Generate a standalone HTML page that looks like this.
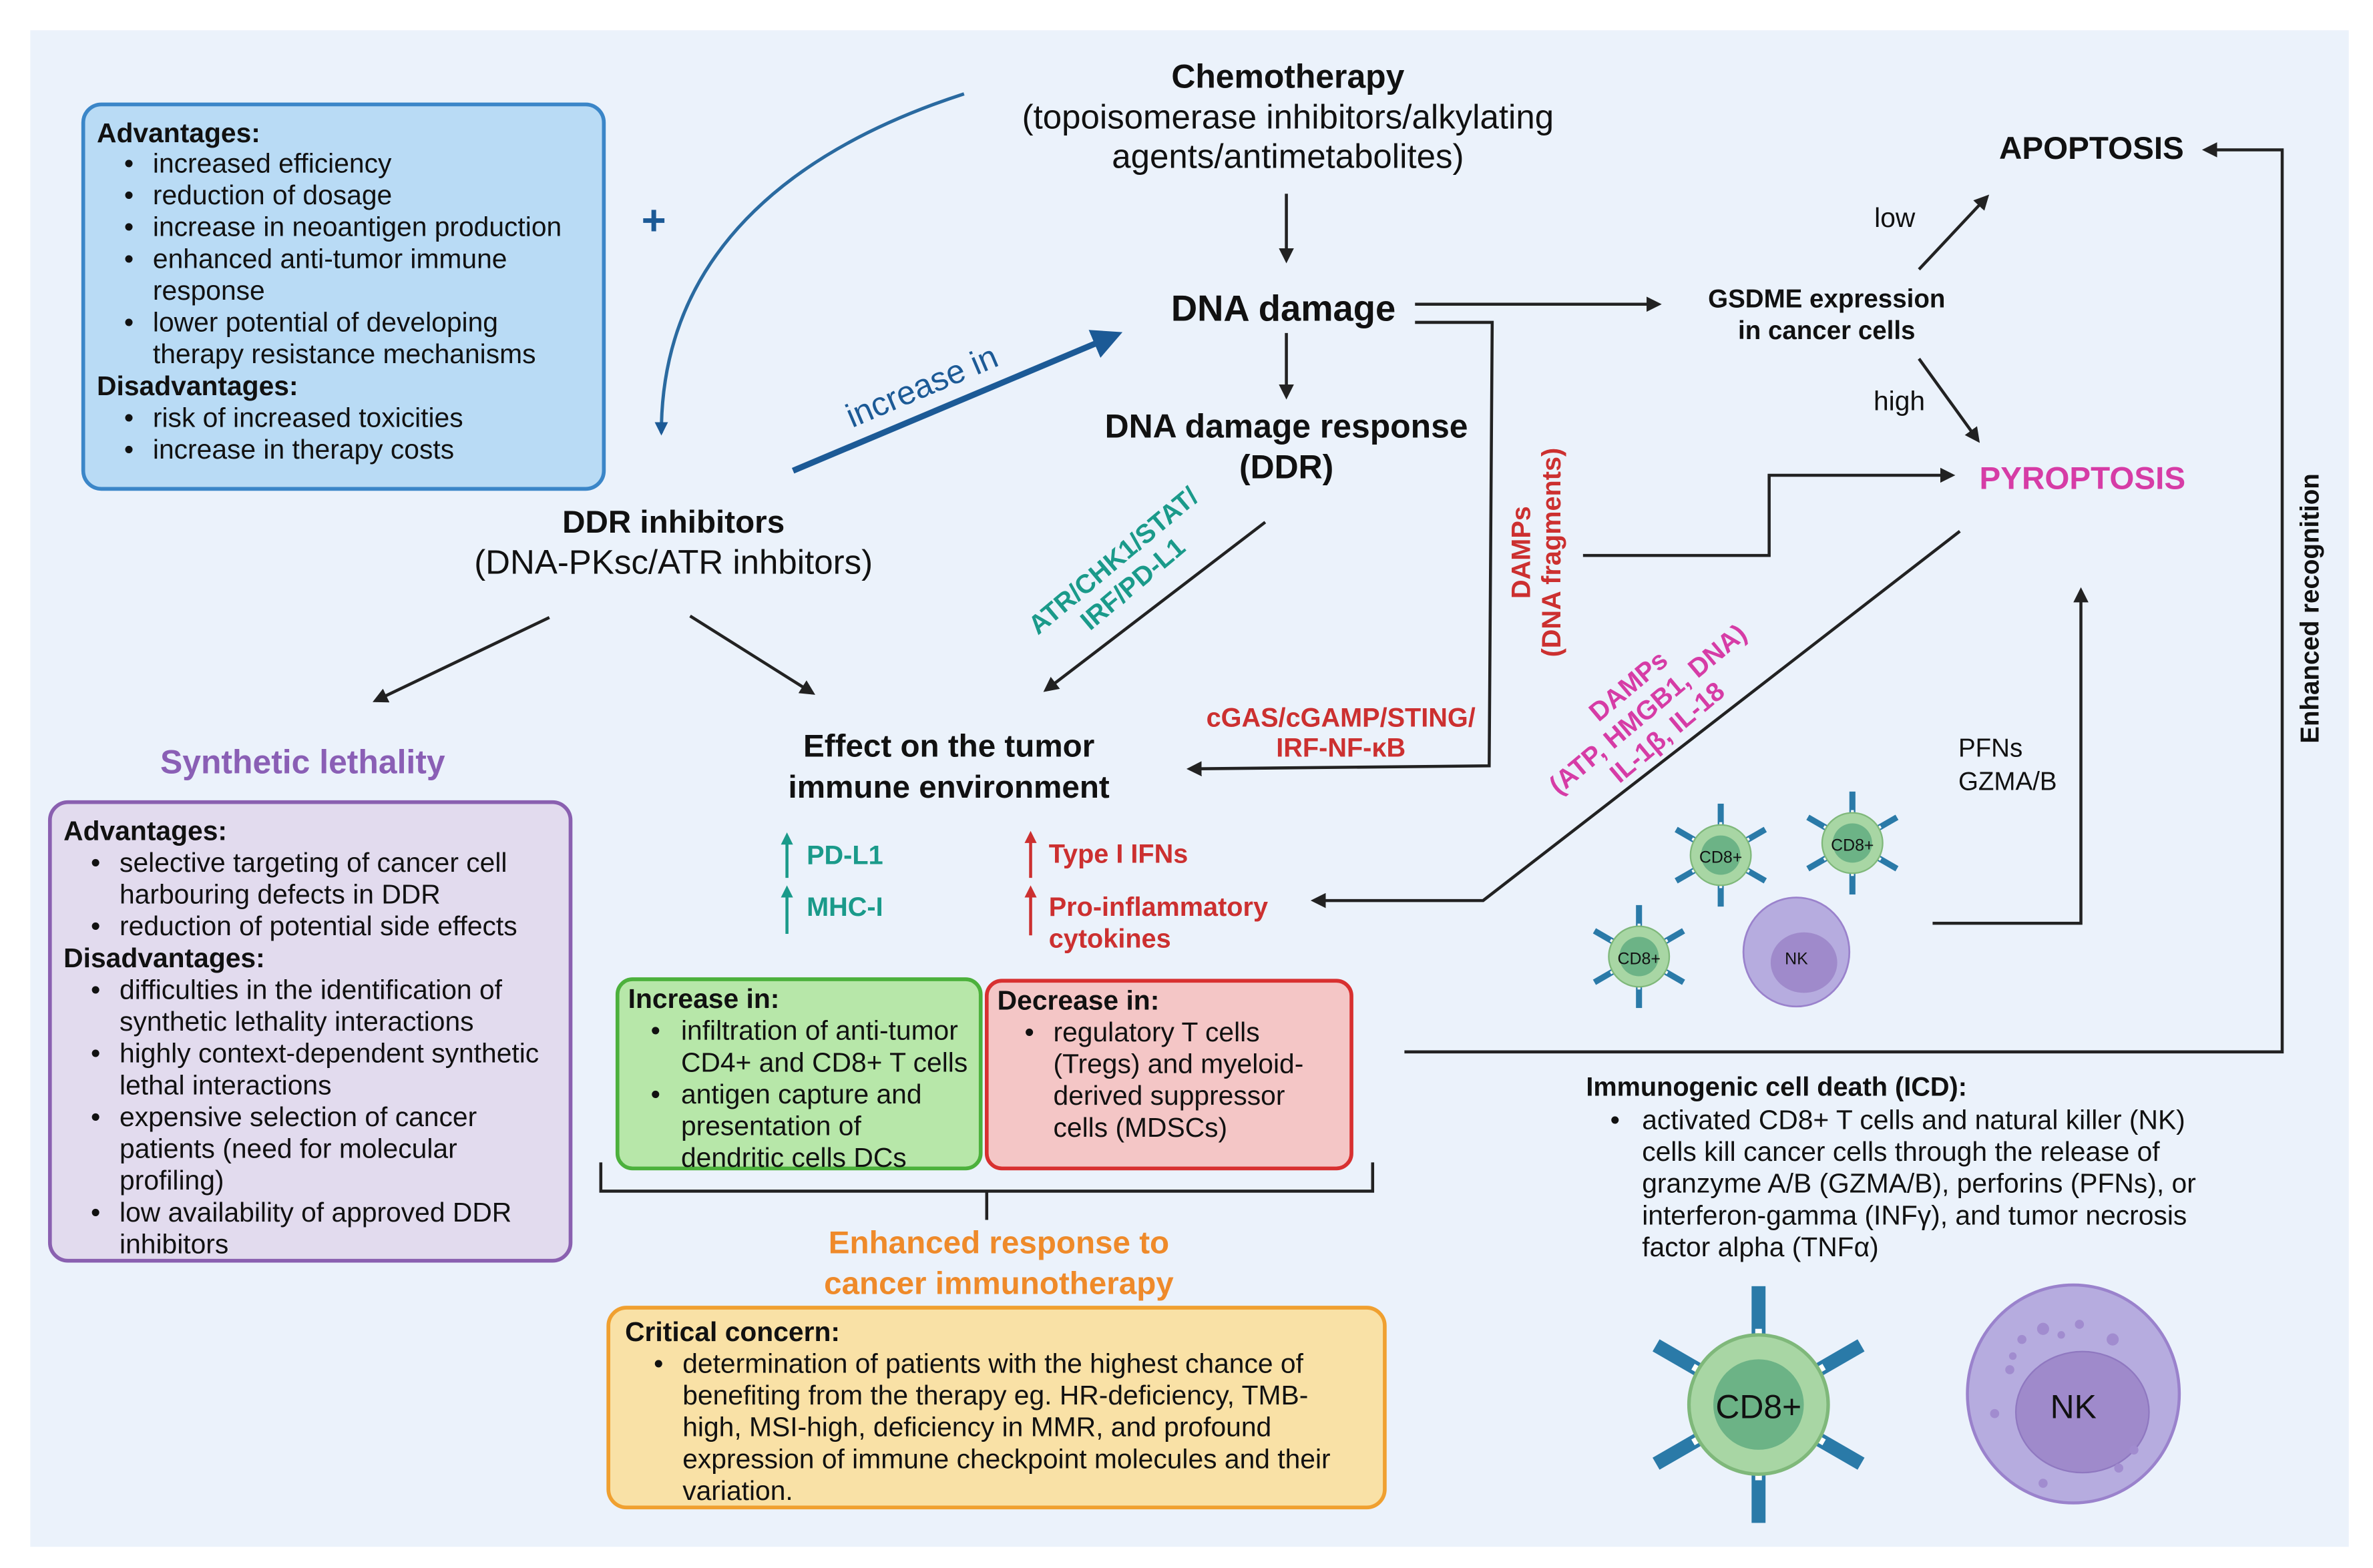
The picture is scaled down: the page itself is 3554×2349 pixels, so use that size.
<!DOCTYPE html>
<html><head><meta charset="utf-8"><style>
html,body{margin:0;padding:0;background:#fff}
svg{display:block}
text{font-family:"Liberation Sans",sans-serif;fill:#111}
.b{font-weight:bold}
</style></head><body>
<svg width="3554" height="2349" viewBox="0 0 1568 1036" preserveAspectRatio="none" xmlns="http://www.w3.org/2000/svg">
<defs>
<marker id="a" viewBox="0 0 10 10" refX="8" refY="5" markerWidth="5" markerHeight="5" orient="auto"><path d="M0,0L10,5L0,10z" fill="#222"/></marker>
<marker id="ab" viewBox="0 0 10 10" refX="8" refY="5" markerWidth="5" markerHeight="5" orient="auto"><path d="M0,0L10,5L0,10z" fill="#1c5a96"/></marker>
<marker id="ab2" viewBox="0 0 10 10" refX="8" refY="5" markerWidth="4" markerHeight="4" orient="auto"><path d="M0,0L10,5L0,10z" fill="#1c5a96"/></marker>
<g id="ab1"><rect x="-2" y="-34" width="4" height="14" fill="#2a7aa8"/><rect x="-1.2" y="-22" width="2.4" height="6" fill="#fff" stroke="#2a7aa8" stroke-width="0.5"/></g>
<g id="cd8">
<use href="#ab1"/><use href="#ab1" transform="rotate(60)"/><use href="#ab1" transform="rotate(120)"/><use href="#ab1" transform="rotate(180)"/><use href="#ab1" transform="rotate(240)"/><use href="#ab1" transform="rotate(300)"/>
<circle r="20" fill="#a8d6a4" stroke="#7fb87a" stroke-width="1"/><circle r="13" fill="#6cb386"/>
</g>
</defs>
<rect x="20" y="20" width="1532" height="1002" fill="#ebf2fb"/>

<rect x="55" y="69" width="344" height="254" rx="12" fill="#b9dbf5" stroke="#3b86c8" stroke-width="2.5"/>
<g font-size="18">
<text x="64" y="94" class="b">Advantages:</text>
<text x="82" y="114">•</text><text x="101" y="114">increased efficiency</text>
<text x="82" y="135">•</text><text x="101" y="135">reduction of dosage</text>
<text x="82" y="156">•</text><text x="101" y="156">increase in neoantigen production</text>
<text x="82" y="177">•</text><text x="101" y="177">enhanced anti-tumor immune</text>
<text x="101" y="198">response</text>
<text x="82" y="219">•</text><text x="101" y="219">lower potential of developing</text>
<text x="101" y="240">therapy resistance mechanisms</text>
<text x="64" y="261" class="b">Disadvantages:</text>
<text x="82" y="282">•</text><text x="101" y="282">risk of increased toxicities</text>
<text x="82" y="303">•</text><text x="101" y="303">increase in therapy costs</text>
</g>
<text x="432" y="155" font-size="28" class="b" text-anchor="middle" style="fill:#1c5a96">+</text>
<path d="M637,62 C520,100 437,170 437,286" fill="none" stroke="#2a6aa0" stroke-width="2.2" marker-end="url(#ab2)"/>

<text x="851" y="58" font-size="22" class="b" text-anchor="middle">Chemotherapy</text>
<text x="851" y="85" font-size="22.5" text-anchor="middle">(topoisomerase inhibitors/alkylating</text>
<text x="851" y="111" font-size="22.5" text-anchor="middle">agents/antimetabolites)</text>
<line x1="850" y1="128" x2="850" y2="172" stroke="#222" stroke-width="2" marker-end="url(#a)"/>
<text x="848" y="212" font-size="24" class="b" text-anchor="middle">DNA damage</text>
<line x1="850" y1="220" x2="850" y2="262" stroke="#222" stroke-width="2" marker-end="url(#a)"/>
<text x="850" y="289" font-size="22" class="b" text-anchor="middle">DNA damage response</text>
<text x="850" y="316" font-size="22" class="b" text-anchor="middle">(DDR)</text>

<line x1="524" y1="311" x2="738" y2="221" stroke="#1c5a96" stroke-width="4" marker-end="url(#ab)"/>
<text transform="translate(612,262) rotate(-23)" font-size="22" text-anchor="middle" style="fill:#1c5a96">increase in</text>

<text x="445" y="352" font-size="21" class="b" text-anchor="middle">DDR inhibitors</text>
<text x="445" y="379" font-size="22.5" text-anchor="middle">(DNA-PKsc/ATR inhbitors)</text>
<line x1="363" y1="408" x2="248" y2="463" stroke="#222" stroke-width="2" marker-end="url(#a)"/>
<line x1="456" y1="407" x2="537" y2="458" stroke="#222" stroke-width="2" marker-end="url(#a)"/>

<text x="200" y="511" font-size="22" class="b" text-anchor="middle" style="fill:#8a5fb5">Synthetic lethality</text>
<rect x="33" y="530" width="344" height="303" rx="12" fill="#e2dbee" stroke="#8a60b0" stroke-width="2.5"/>
<g font-size="18">
<text x="42" y="555" class="b">Advantages:</text>
<text x="60" y="576">•</text><text x="79" y="576">selective targeting of cancer cell</text>
<text x="79" y="597">harbouring defects in DDR</text>
<text x="60" y="618">•</text><text x="79" y="618">reduction of potential side effects</text>
<text x="42" y="639" class="b">Disadvantages:</text>
<text x="60" y="660">•</text><text x="79" y="660">difficulties in the identification of</text>
<text x="79" y="681">synthetic lethality interactions</text>
<text x="60" y="702">•</text><text x="79" y="702">highly context-dependent synthetic</text>
<text x="79" y="723">lethal interactions</text>
<text x="60" y="744">•</text><text x="79" y="744">expensive selection of cancer</text>
<text x="79" y="765">patients (need for molecular</text>
<text x="79" y="786">profiling)</text>
<text x="60" y="807">•</text><text x="79" y="807">low availability of approved DDR</text>
<text x="79" y="828">inhibitors</text>
</g>

<line x1="836" y1="345" x2="691" y2="456" stroke="#222" stroke-width="2" marker-end="url(#a)"/>
<g transform="translate(742,378) rotate(-40)" font-size="17.5" text-anchor="middle">
<text x="0" y="-4" class="b" style="fill:#1a9a8a">ATR/CHK1/STAT/</text>
<text x="0" y="16" class="b" style="fill:#1a9a8a">IRF/PD-L1</text></g>

<line x1="935" y1="201" x2="1096" y2="201" stroke="#222" stroke-width="2" marker-end="url(#a)"/>
<polyline points="935,213 986,213 984,506 786,508" fill="none" stroke="#222" stroke-width="2" marker-end="url(#a)"/>
<text x="886" y="480" font-size="17.5" class="b" text-anchor="middle" style="fill:#cc3030">cGAS/cGAMP/STING/</text>
<text x="886" y="500" font-size="17.5" class="b" text-anchor="middle" style="fill:#cc3030">IRF-NF-κB</text>
<g transform="translate(1015,365) rotate(-90)" text-anchor="middle" font-size="17.5">
<text x="0" y="-4" class="b" style="fill:#cc3030">DAMPs</text>
<text x="0" y="16" class="b" style="fill:#cc3030">(DNA fragments)</text></g>
<polyline points="1046,367 1169,367 1169,314 1290,314" fill="none" stroke="#222" stroke-width="2" marker-end="url(#a)"/>

<text x="1207" y="203" font-size="17" class="b" text-anchor="middle">GSDME expression</text>
<text x="1207" y="224" font-size="17" class="b" text-anchor="middle">in cancer cells</text>
<line x1="1268" y1="178" x2="1313" y2="130" stroke="#222" stroke-width="2" marker-end="url(#a)"/>
<text x="1252" y="150" font-size="18" text-anchor="middle">low</text>
<line x1="1268" y1="237" x2="1307" y2="291" stroke="#222" stroke-width="2" marker-end="url(#a)"/>
<text x="1255" y="271" font-size="18" text-anchor="middle">high</text>
<text x="1382" y="105" font-size="21" class="b" text-anchor="middle">APOPTOSIS</text>
<polyline points="928,695 1508,695 1508,99 1457,99" fill="none" stroke="#222" stroke-width="2" marker-end="url(#a)"/>
<text transform="translate(1532,402) rotate(-90)" font-size="17" class="b" text-anchor="middle">Enhanced recognition</text>
<text x="1376" y="323" font-size="21" class="b" text-anchor="middle" style="fill:#d63ca6">PYROPTOSIS</text>

<polyline points="1295,351 980,595 868,595" fill="none" stroke="#222" stroke-width="2" marker-end="url(#a)"/>
<g transform="translate(1090,470) rotate(-40)" text-anchor="middle" font-size="17.5">
<text x="0" y="-16" class="b" style="fill:#d63ca6">DAMPs</text>
<text x="0" y="4" class="b" style="fill:#d63ca6">(ATP, HMGB1, DNA)</text>
<text x="0" y="24" class="b" style="fill:#d63ca6">IL-1β, IL-18</text></g>
<text x="1294" y="500" font-size="17">PFNs</text>
<text x="1294" y="522" font-size="17">GZMA/B</text>
<polyline points="1277,610 1375,610 1375,390" fill="none" stroke="#222" stroke-width="2" marker-end="url(#a)"/>

<use href="#cd8" transform="translate(1137,565)"/>
<use href="#cd8" transform="translate(1224,557)"/>
<use href="#cd8" transform="translate(1083,632)"/>
<text x="1137" y="570" font-size="11" text-anchor="middle">CD8+</text>
<text x="1224" y="562" font-size="11" text-anchor="middle">CD8+</text>
<text x="1083" y="637" font-size="11" text-anchor="middle">CD8+</text>
<ellipse cx="1187" cy="629" rx="35" ry="36" fill="#b6acdf" stroke="#9a82cc" stroke-width="1.2"/>
<ellipse cx="1192" cy="636" rx="22" ry="20" fill="#9f8acb"/>
<text x="1187" y="637" font-size="11" text-anchor="middle">NK</text>

<text x="627" y="500" font-size="21" class="b" text-anchor="middle">Effect on the tumor</text>
<text x="627" y="527" font-size="21" class="b" text-anchor="middle">immune environment</text>
<g stroke="#1a9a8a" stroke-width="2"><line x1="520" y1="580" x2="520" y2="555"/><line x1="520" y1="617" x2="520" y2="590"/></g>
<path d="M516,558 L520,550 L524,558z M516,593 L520,585 L524,593z" fill="#1a9a8a"/>
<text x="533" y="571" font-size="17.5" class="b" style="fill:#1a9a8a">PD-L1</text>
<text x="533" y="605" font-size="17.5" class="b" style="fill:#1a9a8a">MHC-I</text>
<g stroke="#cc3030" stroke-width="2"><line x1="681" y1="580" x2="681" y2="554"/><line x1="681" y1="618" x2="681" y2="590"/></g>
<path d="M677,557 L681,549 L685,557z M677,593 L681,585 L685,593z" fill="#cc3030"/>
<text x="693" y="570" font-size="17.5" class="b" style="fill:#cc3030">Type I IFNs</text>
<text x="693" y="605" font-size="17.5" class="b" style="fill:#cc3030">Pro-inflammatory</text>
<text x="693" y="626" font-size="17.5" class="b" style="fill:#cc3030">cytokines</text>

<rect x="408" y="647" width="240" height="125" rx="10" fill="#b7e7a9" stroke="#4cb13c" stroke-width="2.5"/>
<rect x="652" y="648" width="241" height="124" rx="10" fill="#f4c6c6" stroke="#d83030" stroke-width="2.5"/>
<g font-size="18">
<text x="415" y="666" class="b">Increase in:</text>
<text x="430" y="687">•</text><text x="450" y="687">infiltration of anti-tumor</text>
<text x="450" y="708">CD4+ and CD8+ T cells</text>
<text x="430" y="729">•</text><text x="450" y="729">antigen capture and</text>
<text x="450" y="750">presentation of</text>
<text x="450" y="771">dendritic cells DCs</text>
<text x="659" y="667" class="b">Decrease in:</text>
<text x="677" y="688">•</text><text x="696" y="688">regulatory T cells</text>
<text x="696" y="709">(Tregs) and myeloid-</text>
<text x="696" y="730">derived suppressor</text>
<text x="696" y="751">cells (MDSCs)</text>
</g>
<polyline points="397,768 397,787 907,787 907,768" fill="none" stroke="#222" stroke-width="2"/>
<line x1="652" y1="787" x2="652" y2="806" stroke="#222" stroke-width="2"/>
<text x="660" y="828" font-size="21" class="b" text-anchor="middle" style="fill:#ef8a2a">Enhanced response to</text>
<text x="660" y="855" font-size="21" class="b" text-anchor="middle" style="fill:#ef8a2a">cancer immunotherapy</text>
<rect x="402" y="864" width="513" height="132" rx="12" fill="#f9e1a6" stroke="#f0a030" stroke-width="2.5"/>
<g font-size="18">
<text x="413" y="886" class="b">Critical concern:</text>
<text x="432" y="907">•</text><text x="451" y="907">determination of patients with the highest chance of</text>
<text x="451" y="928">benefiting from the therapy eg. HR-deficiency, TMB-</text>
<text x="451" y="949">high, MSI-high, deficiency in MMR, and profound</text>
<text x="451" y="970">expression of immune checkpoint molecules and their</text>
<text x="451" y="991">variation.</text>
</g>

<g font-size="18">
<text x="1048" y="724" class="b" font-size="17.5">Immunogenic cell death (ICD):</text>
<text x="1064" y="746">•</text><text x="1085" y="746">activated CD8+ T cells and natural killer (NK)</text>
<text x="1085" y="767">cells kill cancer cells through the release of</text>
<text x="1085" y="788">granzyme A/B (GZMA/B), perforins (PFNs), or</text>
<text x="1085" y="809">interferon-gamma (INFγ), and tumor necrosis</text>
<text x="1085" y="830">factor alpha (TNFα)</text>
</g>
<use href="#cd8" transform="translate(1162,928) scale(2.3)"/>
<text x="1162" y="937" font-size="22" text-anchor="middle">CD8+</text>
<ellipse cx="1370" cy="921" rx="70" ry="72" fill="#b6acdf" stroke="#9a82cc" stroke-width="2"/>
<ellipse cx="1376" cy="933" rx="44" ry="40" fill="#9f8acb" stroke="#8f78c0" stroke-width="1"/>
<g fill="#a18ccf"><circle cx="1336" cy="885" r="3"/><circle cx="1350" cy="878" r="4"/><circle cx="1374" cy="875" r="3"/><circle cx="1396" cy="885" r="4"/><circle cx="1328" cy="905" r="3"/><circle cx="1318" cy="934" r="3"/><circle cx="1330" cy="896" r="2.5"/><circle cx="1362" cy="882" r="2.5"/><circle cx="1400" cy="970" r="3"/><circle cx="1410" cy="958" r="3"/><circle cx="1350" cy="980" r="3"/></g>
<text x="1370" y="937" font-size="22" text-anchor="middle">NK</text>
</svg>
</body></html>
